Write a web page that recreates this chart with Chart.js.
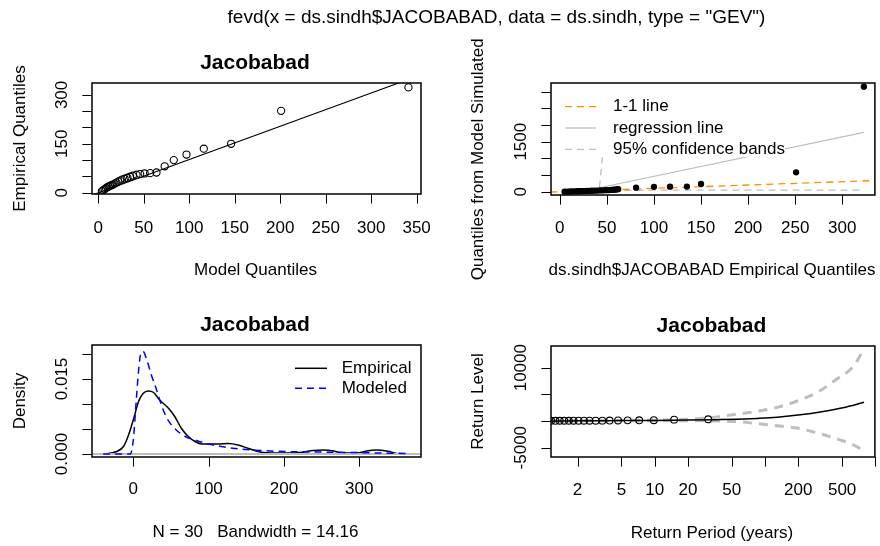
<!DOCTYPE html>
<html>
<head>
<meta charset="utf-8">
<script src="https://cdn.jsdelivr.net/npm/chart.js@4"></script>
<style>
  html, body { margin: 0; padding: 0; background: #fff; overflow: hidden; }
  #wrap { position: relative; width: 880px; height: 546px; }
  canvas { position: absolute; left: 0; top: 0; }
</style>
</head>
<body>
<div id="wrap">
  <canvas id="qqModel" width="880" height="546"></canvas>
  <canvas id="qqSim" width="880" height="546"></canvas>
  <canvas id="density" width="880" height="546"></canvas>
  <canvas id="returnLevel" width="880" height="546"></canvas>
</div>
<script>
// ---- data ----
// sorted annual maxima (empirical quantiles)
const empQ = [5, 8, 11, 14, 17, 19, 21, 23, 25, 28, 31, 34, 37, 40, 43, 46, 49, 52, 55, 57, 59, 60, 62, 81, 100, 117, 135, 150, 251, 323];
// fitted GEV quantiles (top-left x)
const modelQ = [4, 5.5, 7, 8.5, 10, 11.5, 13, 14.5, 16, 18, 20, 22, 24, 26, 29, 32, 35, 38, 42, 46, 51, 57, 64, 73, 83, 97, 116, 146, 201, 341];
// quantiles from model simulated data (top-right y)
const simQ = [2, 4, 6, 8, 10, 13, 15, 18, 20, 23, 26, 29, 32, 35, 38, 42, 46, 50, 54, 58, 63, 68, 75, 120, 145, 150, 155, 231, 581, 3150];

const qqLineX = [-10, 360];
const qqLineY = [-10.5, 367];

const oneOneX = [-10, 335];
const oneOneY = [-10, 335];
const regX = [5, 323];
const regY = [-100, 1780];
const bandLoX = [5, 20, 40, 60, 100, 150, 250, 323];
const bandLoY = [0, 10, 25, 35, 45, 50, 50, 50];
const bandHiX = [5, 20, 35, 42, 53];
const bandHiY = [10, 30, 70, 100, 3300];

// kernel density of the data vs modeled GEV density
const empDensX = [-38, -22, -13, -7, 0, 7, 13, 20, 27, 35, 47, 55, 64, 73, 82, 91, 113, 126, 139, 153, 166, 173, 199, 221, 239, 252, 266, 274, 297, 310, 323, 336, 350];
const empDensY = [0, 0.0005, 0.0015, 0.0035, 0.0068, 0.0105, 0.0121, 0.0126, 0.0123, 0.0108, 0.0091, 0.0075, 0.0051, 0.0035, 0.0025, 0.002, 0.002, 0.0021, 0.0018, 0.0011, 0.0005, 0.0003, 0.0002, 0.0003, 0.0007, 0.0008, 0.0006, 0.0003, 0.0002, 0.0006, 0.0008, 0.0006, 0.0001];
const modDensX = [-40, -4, 0, 4, 7.5, 10, 13, 18, 24, 31, 38, 46, 55, 69, 82, 100, 117, 135, 157, 199, 243, 288, 367];
const modDensY = [0, 0, 0.0028, 0.0108, 0.0175, 0.0201, 0.0205, 0.0188, 0.0158, 0.0128, 0.0095, 0.0068, 0.0051, 0.0035, 0.0028, 0.002, 0.0015, 0.0011, 0.0008, 0.0005, 0.0004, 0.0003, 0.0001];

// return level plot
const rlPeriod = [1.15, 1.5, 2, 3, 5, 10, 20, 37, 56, 85, 129, 209, 337, 509, 790];
const rlLevel = [5, 20, 30, 50, 70, 110, 170, 250, 330, 480, 700, 1150, 1800, 2500, 3500];
const ciHiPeriod = [1.15, 2, 5, 10, 20, 30, 49, 81, 131, 200, 305, 436, 630, 790];
const ciHi = [10, 40, 100, 180, 330, 550, 1125, 1750, 2600, 3800, 5500, 7700, 10200, 13500];
const ciLoPeriod = [1.15, 2, 5, 10, 20, 30, 56, 81, 135, 200, 305, 460, 680, 790];
const ciLo = [0, 20, 40, 60, 40, 20, -125, -440, -940, -1370, -2310, -3440, -4800, -5800];
const obsPeriod = [0.291, 0.365, 0.428, 0.488, 0.548, 0.609, 0.672, 0.738, 0.808, 0.884, 0.965, 1.054, 1.151, 1.258, 1.377, 1.512, 1.664, 1.84, 2.043, 2.282, 2.567, 2.916, 3.35, 3.906, 4.649, 5.685, 7.24, 9.82, 15.0, 30.5];

// tick values and labels
const qqXTicks = [0, 50, 100, 150, 200, 250, 300, 350];
const qqXLabels = ['0', '50', '100', '150', '200', '250', '300', '350'];
const qqYTicks = [0, 50, 100, 150, 200, 250, 300];
const qqYLabels = ['0', '', '', '150', '', '', '300'];
const simXTicks = [0, 50, 100, 150, 200, 250, 300];
const simXLabels = ['0', '50', '100', '150', '200', '250', '300'];
const simYTicks = [0, 500, 1000, 1500, 2000, 2500, 3000];
const simYLabels = ['0', '', '', '1500', '', '', ''];
const densXTicks = [0, 100, 200, 300];
const densXLabels = ['0', '100', '200', '300'];
const densYTicks = [0, 0.005, 0.01, 0.015, 0.02];
const densYLabels = ['0.000', '', '', '0.015', ''];
const rlXTicks = [2, 5, 10, 20, 50, 100, 200, 500, 1000];
const rlXLabels = ['2', '5', '10', '20', '50', '', '200', '500', ''];
const rlYTicks = [-5000, 0, 5000, 10000];
const rlYLabels = ['-5000', '', '', '10000'];

const simLegend = ['1-1 line', 'regression line', '95% confidence bands'];
const densLegend = ['Empirical', 'Modeled'];

// ---- helpers ----
const FONT = '"Liberation Sans", Arial, sans-serif';
const FS = 17;
const grey = '#BEBEBE';
const orange = '#FF8C00';

function pts(xs, ys) {
  return xs.map((v, i) => ({ x: v, y: ys[i] }));
}

function lineSet(data, color, width, dash, smooth) {
  return {
    data, showLine: true, borderColor: color, borderWidth: width,
    borderDash: dash || [], pointRadius: 0, clip: 0,
    cubicInterpolationMode: smooth ? 'monotone' : 'default', tension: 0,
  };
}

function dotSet(data, radius, filled) {
  return {
    data, showLine: false, clip: 0, pointRadius: radius, borderWidth: 1.1,
    borderColor: '#000', backgroundColor: filled ? '#000' : 'rgba(0,0,0,0)',
  };
}

function text(ctx, s, x, y, o) {
  o = o || {};
  ctx.save();
  ctx.font = (o.bold ? 'bold ' : '') + (o.size || FS) + 'px ' + FONT;
  ctx.fillStyle = '#000';
  ctx.textAlign = o.align || 'center';
  ctx.textBaseline = 'middle';
  ctx.translate(x, y);
  if (o.rot) ctx.rotate(-Math.PI / 2);
  ctx.fillText(s, 0, 0);
  ctx.restore();
}

function seg(ctx, x1, x2, y, color, width, dash) {
  ctx.save();
  ctx.strokeStyle = color;
  ctx.lineWidth = width;
  ctx.setLineDash(dash);
  ctx.beginPath();
  ctx.moveTo(x1, y);
  ctx.lineTo(x2, y);
  ctx.stroke();
  ctx.restore();
}

// R style box, outward ticks, labels and titles
function rFrame(o) {
  return {
    id: 'rFrame',
    afterDatasetsDraw(chart) {
      const { ctx, chartArea: a } = chart;
      const sx = chart.scales.x, sy = chart.scales.y;
      if (o.extra) o.extra(ctx);
      ctx.save();
      ctx.strokeStyle = '#000';
      ctx.lineWidth = 1.5;
      ctx.strokeRect(a.left, a.top, a.right - a.left, a.bottom - a.top);
      ctx.lineWidth = 1;
      ctx.beginPath();
      o.xTicks.forEach(v => {
        const p = Math.round(sx.getPixelForValue(v)) + 0.5;
        ctx.moveTo(p, a.bottom);
        ctx.lineTo(p, a.bottom + 9.6);
      });
      o.yTicks.forEach(v => {
        const p = Math.round(sy.getPixelForValue(v)) + 0.5;
        ctx.moveTo(a.left, p);
        ctx.lineTo(a.left - 9.6, p);
      });
      ctx.stroke();
      ctx.restore();
      o.xTicks.forEach((v, i) => {
        if (o.xLabels[i]) text(ctx, o.xLabels[i], sx.getPixelForValue(v), o.xLabY);
      });
      o.yTicks.forEach((v, i) => {
        if (o.yLabels[i]) text(ctx, o.yLabels[i], a.left - 30, sy.getPixelForValue(v), { rot: true });
      });
      const cx = (a.left + a.right) / 2, cy = (a.top + a.bottom) / 2;
      if (o.title) text(ctx, o.title, cx - 1.5, a.top - 19.5, { bold: true, size: 21 });
      text(ctx, o.xTitle, cx - 1, o.xTitleY);
      ctx.save();
      if (o.clipTop != null) {
        ctx.beginPath();
        ctx.rect(0, o.clipTop, chart.width, chart.height);
        ctx.clip();
      }
      text(ctx, o.yTitle, o.yTitleX, cy, { rot: true });
      ctx.restore();
      if (o.after) o.after(ctx);
    }
  };
}

function baseOptions(pad, xs, ys) {
  return {
    responsive: false,
    animation: false,
    devicePixelRatio: 1,
    events: [],
    layout: { padding: pad },
    plugins: { legend: { display: false }, tooltip: { enabled: false } },
    scales: {
      x: Object.assign({ type: 'linear', display: false }, xs),
      y: Object.assign({ type: 'linear', display: false }, ys),
    },
  };
}

// ---- top left: empirical vs model quantiles ----
new Chart(document.getElementById('qqModel'), {
  type: 'scatter',
  data: {
    datasets: [
      dotSet(pts(modelQ, empQ), 3.6, false),
      lineSet(pts(qqLineX, qqLineY), '#000', 1.1),
    ],
  },
  options: baseOptions({ left: 92, top: 83, right: 459, bottom: 352 },
    { min: -6.9, max: 354.8 }, { min: -4, max: 336.5 }),
  plugins: [rFrame({
    xTicks: qqXTicks, xLabels: qqXLabels, yTicks: qqYTicks, yLabels: qqYLabels,
    xLabY: 228, title: 'Jacobabad', xTitle: 'Model Quantiles', xTitleY: 270,
    yTitle: 'Empirical Quantiles', yTitleX: 20,
    after(ctx) {
      text(ctx, 'fevd(x = ds.sindh$JACOBABAD, data = ds.sindh, type = "GEV")', 496.5, 18, { size: 19 });
    },
  })],
});

// ---- top right: simulated vs empirical quantiles ----
new Chart(document.getElementById('qqSim'), {
  type: 'scatter',
  data: {
    datasets: [
      dotSet(pts(empQ, simQ), 2.6, true),
      lineSet(pts(oneOneX, oneOneY), orange, 1.3, [7, 5]),
      lineSet(pts(regX, regY), grey, 1.1),
      lineSet(pts(bandHiX, bandHiY), grey, 1.3, [7, 5]),
      lineSet(pts(bandLoX, bandLoY), grey, 1.3, [7, 5]),
    ],
  },
  options: baseOptions({ left: 551, top: 83, right: 1, bottom: 351 },
    { min: -9.4, max: 334.7 }, { min: -99, max: 3261 }),
  plugins: [rFrame({
    xTicks: simXTicks, xLabels: simXLabels, yTicks: simYTicks, yLabels: simYLabels,
    xLabY: 228, xTitle: 'ds.sindh$JACOBABAD Empirical Quantiles', xTitleY: 270,
    yTitle: 'Quantiles from Model Simulated Data', yTitleX: 478, clipTop: 39,
    extra(ctx) {
      // legend sits on a white background that hides the band spike
      ctx.save();
      ctx.fillStyle = '#fff';
      ctx.fillRect(553, 82, 232, 75);
      ctx.restore();
      const rows = [[106.7, orange, [7, 5]], [128, grey, []], [149.3, grey, [7, 5]]];
      rows.forEach((r, i) => {
        seg(ctx, 565, 596, r[0], r[1], 1.3, r[2]);
        text(ctx, simLegend[i], 613, r[0], { align: 'left' });
      });
    },
  })],
});

// ---- bottom left: density ----
new Chart(document.getElementById('density'), {
  type: 'scatter',
  data: {
    datasets: [
      lineSet(pts(modDensX, modDensY), '#0000FF', 1.5, [7, 5], true),
      lineSet(pts([-60, 390], [0, 0]), grey, 2),
      lineSet(pts(empDensX, empDensY), '#000', 1.5, null, true),
    ],
  },
  options: baseOptions({ left: 92, top: 345, right: 459, bottom: 89 },
    { min: -54.8, max: 381.9 }, { min: -0.0006, max: 0.0218 }),
  plugins: [rFrame({
    xTicks: densXTicks, xLabels: densXLabels, yTicks: densYTicks, yLabels: densYLabels,
    xLabY: 489, title: 'Jacobabad', xTitle: 'N = 30   Bandwidth = 14.16', xTitleY: 532,
    yTitle: 'Density', yTitleX: 20,
    extra(ctx) {
      seg(ctx, 295, 327, 368.3, '#000', 1.5, []);
      seg(ctx, 295, 327, 388.3, '#0000FF', 1.5, [7, 5]);
      text(ctx, densLegend[0], 341.7, 368.3, { align: 'left' });
      text(ctx, densLegend[1], 341.7, 388.3, { align: 'left' });
    },
  })],
});

// ---- bottom right: return levels ----
new Chart(document.getElementById('returnLevel'), {
  type: 'scatter',
  data: {
    datasets: [
      dotSet(pts(obsPeriod, empQ), 3.4, false),
      lineSet(pts(rlPeriod, rlLevel), '#000', 1.5, null, true),
      lineSet(pts(ciHiPeriod, ciHi), grey, 3, [9, 7], true),
      lineSet(pts(ciLoPeriod, ciLo), grey, 3, [9, 7], true),
    ],
  },
  options: baseOptions({ left: 551, top: 346, right: 1, bottom: 89 },
    { type: 'logarithmic', min: 1.148, max: 991 }, { min: -6750, max: 14060 }),
  plugins: [rFrame({
    xTicks: rlXTicks, xLabels: rlXLabels, yTicks: rlYTicks, yLabels: rlYLabels,
    xLabY: 490, title: 'Jacobabad', xTitle: 'Return Period (years)', xTitleY: 533,
    yTitle: 'Return Level', yTitleX: 478,
  })],
});
</script>
</body>
</html>
